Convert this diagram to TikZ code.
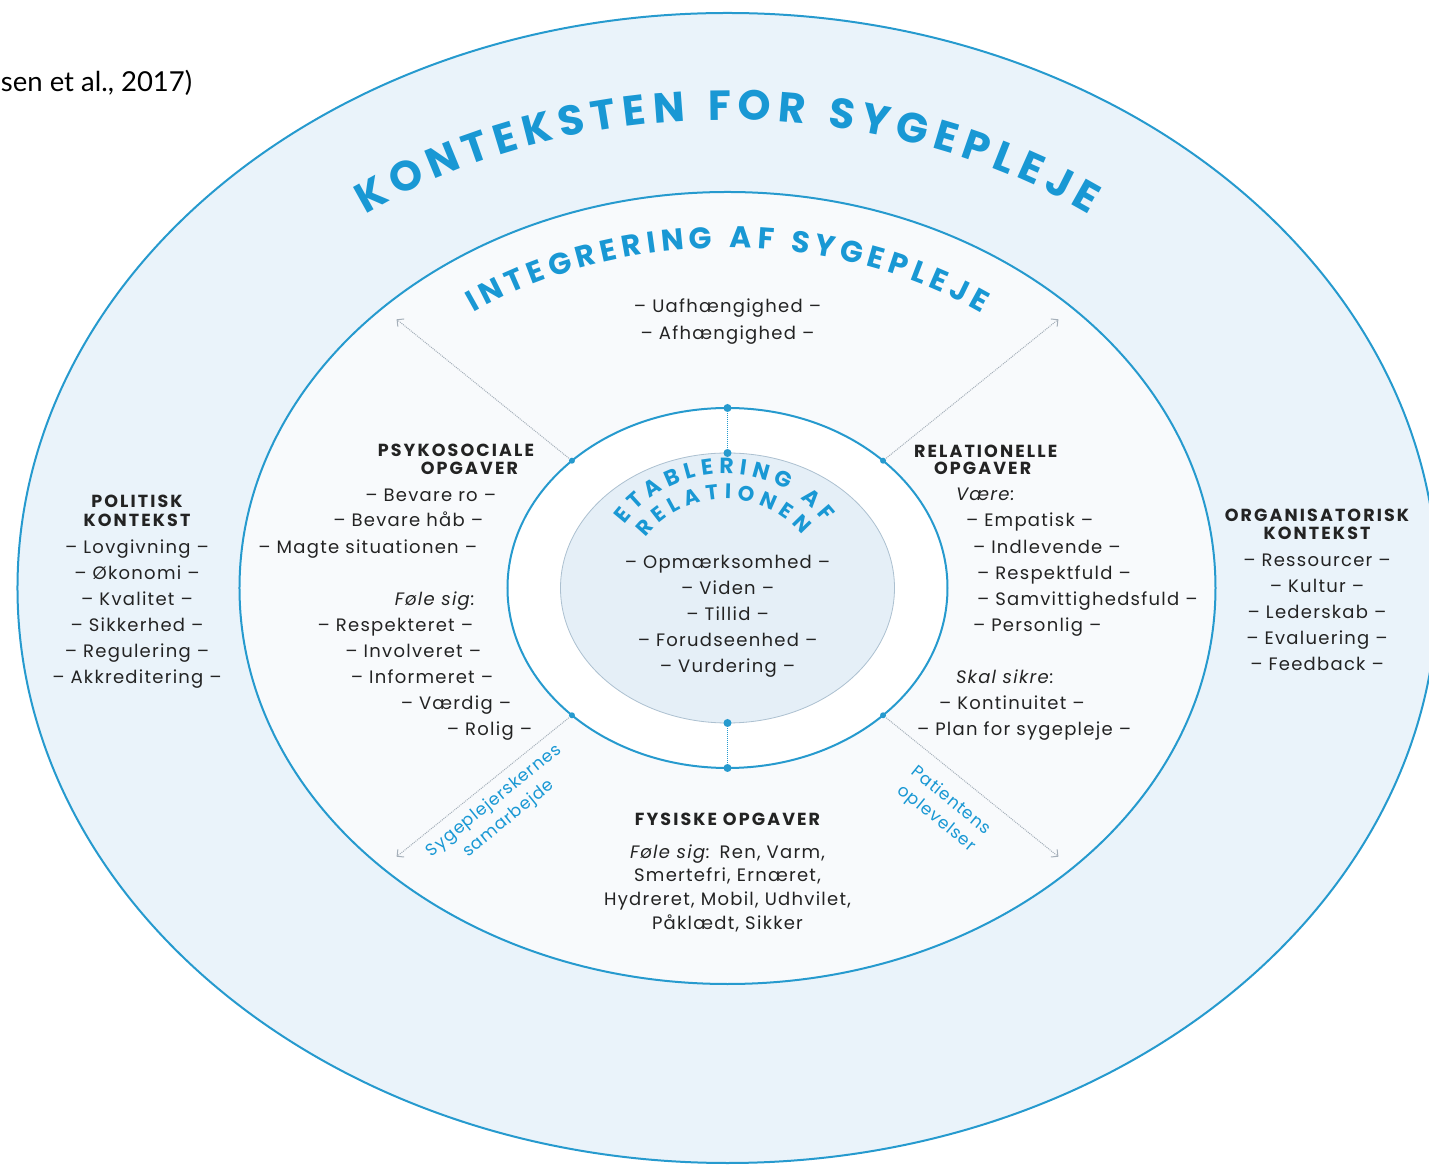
\documentclass[tikz,border=0pt]{standalone}
\usepackage{fontspec}
\setmainfont{Poppins}
\newfontfamily\citefont{Lato}
\newfontfamily\itemfont[LetterSpace=7]{Poppins}
\newfontfamily\headfont[LetterSpace=12]{Poppins}
\newfontfamily\sidefont[LetterSpace=5]{Poppins}
\usetikzlibrary{decorations.text,arrows.meta}

\definecolor{kblue}{RGB}{38,154,206}
\definecolor{tblue}{RGB}{25,152,212}
\definecolor{outerfill}{RGB}{234,243,250}
\definecolor{midfill}{RGB}{248,250,252}
\definecolor{discfill}{RGB}{229,239,247}
\definecolor{discline}{RGB}{172,192,208}
\definecolor{ink}{RGB}{35,35,35}
\definecolor{dotgray}{RGB}{165,175,185}

\tikzset{
  item/.style={font=\itemfont\fontsize{18}{20}\selectfont, text=ink, inner sep=0pt, anchor=base},
  head/.style={item, font=\headfont\fontsize{17.5}{20}\selectfont\bfseries},
  emph/.style={item, font=\itemfont\fontsize{18}{20}\selectfont\itshape},
  side/.style={font=\sidefont\fontsize{17}{23}\selectfont, text=tblue, inner sep=0pt, align=center},
  dot/.style={circle, fill=kblue, inner sep=0pt, minimum size=8pt},
  diag/.style={dotgray, densely dotted, line width=1pt, -{Straight Barb[angle=90:7pt]}},
  curved/.style={decorate, decoration={text along path, text color=tblue, text align=fit to path}},
}

\begin{document}
\begin{tikzpicture}[x=1pt, y=1pt, line width=2pt]
  \useasboundingbox (-727.5,-578) rectangle (701.5,588);

  % 三层椭圆
  \draw[kblue, fill=outerfill] (0,0) ellipse [x radius=710pt, y radius=575pt];
  \draw[kblue, fill=midfill] (0,0) ellipse [x radius=488pt, y radius=396pt];
  \draw[kblue, fill=white] (0,0) ellipse [x radius=220pt, y radius=180pt];
  \draw[discline, line width=0.8pt, fill=discfill] (0,0) ellipse [x radius=167pt, y radius=135pt];

  % 圆点和虚线
  \node[dot] (rt) at (90:220pt and 180pt) {};
  \node[dot] (dt) at (90:167pt and 135pt) {};
  \node[dot] (rb) at (270:220pt and 180pt) {};
  \node[dot] (db) at (270:167pt and 135pt) {};
  \draw[kblue, densely dotted, line width=1pt] (rt) -- (dt);
  \draw[kblue, densely dotted, line width=1pt] (rb) -- (db);
  \foreach \a [count=\i] in {135, 45, 225, 315} {
    \node[dot, minimum size=6pt] (r\i) at (\a:220pt and 180pt) {};
    \coordinate (c\i) at (\a:468pt and 380pt);
    \draw[diag] (r\i) -- (c\i);
  }

  % 弧形标题
  \path[curved, decoration={text={|\fontsize{42}{44}\selectfont\bfseries|KONTEKSTEN FOR SYGEPLEJE}}]
    (127:601pt and 468pt) arc[start angle=127, end angle=53, x radius=601pt, y radius=468pt];
  \path[curved, decoration={text={|\fontsize{30}{32}\selectfont\bfseries|INTEGRERING AF SYGEPLEJE}}]
    (126:432pt and 340pt) arc[start angle=126, end angle=54, x radius=432pt, y radius=340pt];
  \path[curved, decoration={text={|\fontsize{22}{24}\selectfont\bfseries|ETABLERING AF}}]
    ([shift={(143:126pt)}]-2.5,-12) arc[start angle=143, end angle=38, radius=126pt];
  \path[curved, decoration={text={|\fontsize{21}{23}\selectfont\bfseries|RELATIONEN}}]
    ([shift={(142:101pt)}]-2.5,-12) arc[start angle=142, end angle=40, radius=101pt];

  % 引用
  \node[font=\citefont\fontsize{27.5}{30}\selectfont, anchor=base west, inner sep=0pt] (cite)
    at (-727.5,496) {sen et al., 2017)};

  % 政治背景
  \node[head] (polh1) at (-590.5,80) {POLITISK};
  \node[head] (polh2) at (-590.5,61) {KONTEKST};
  \foreach \t [count=\i] in {Lovgivning, Økonomi, Kvalitet, Sikkerhed, Regulering, Akkreditering}
    \node[item] (pol\i) at (-590.5,{60-26*\i}) {– \t\ –};

  % 组织背景
  \node[head] (orgh1) at (589.5,66) {ORGANISATORISK};
  \node[head] (orgh2) at (589.5,48) {KONTEKST};
  \foreach \t [count=\i] in {Ressourcer, Kultur, Lederskab, Evaluering, Feedback}
    \node[item] (org\i) at (589.5,{47-26*\i}) {– \t\ –};

  % 顶部
  \node[item] (uaf) at (0,275) {– Uafhængighed –};
  \node[item] (afh) at (0,248) {– Afhængighed –};

  % 心理社会任务
  \node[head, anchor=base east] (psyh1) at (-192.5,131) {PSYKOSOCIALE};
  \node[head, anchor=base east] (psyh2) at (-208.5,113) {OPGAVER};
  \foreach \x/\y/\t [count=\i] in {-230.5/86/Bevare ro, -243.5/61/Bevare håb, -249.5/34/Magte situationen,
      -253.5/-44/Respekteret, -245.5/-70/Involveret, -233.5/-96/Informeret, -215.5/-122/Værdig, -194.5/-148/Rolig}
    \node[item, anchor=base east] (psy\i) at (\x,\y) {– \t\ –};
  \node[emph, anchor=base east] (psyf) at (-251.5,-18) {Føle sig:};

  % 关系任务
  \node[head, anchor=base west] (relh1) at (185.5,130) {RELATIONELLE};
  \node[head, anchor=base west] (relh2) at (205.5,113) {OPGAVER};
  \node[emph, anchor=base west] (relv) at (227.5,87) {Være:};
  \foreach \x/\y/\t [count=\i] in {237.5/61/Empatisk, 244.5/34/Indlevende, 248.5/8/Respektfuld,
      248.5/-18/Samvittighedsfuld, 244.5/-44/Personlig, 210.5/-122/Kontinuitet, 188.5/-148/Plan for sygepleje}
    \node[item, anchor=base west] (rel\i) at (\x,\y) {– \t\ –};
  \node[emph, anchor=base west] (rels) at (227.5,-96) {Skal sikre:};

  % 建立关系
  \foreach \t [count=\i] in {Opmærksomhed, Viden, Tillid, Forudseenhed, Vurdering}
    \node[item] (etb\i) at (0,{45-26*\i}) {– \t\ –};

  % 身体任务
  \node[head] (fysh) at (0,-238) {FYSISKE OPGAVER};
  \node[item] (fys1) at (0,-270) {\textit{Føle sig:} Ren, Varm,};
  \node[item] (fys2) at (0,-294) {Smertefri, Ernæret,};
  \node[item] (fys3) at (0,-317) {Hydreret, Mobil, Udhvilet,};
  \node[item] (fys4) at (0,-341) {Påklædt, Sikker};

  % 斜向标签
  \node[side, rotate=39] (sam) at (-226,-222) {Sygeplejerskernes\\samarbejde};
  \node[side, rotate=-39] (pat) at (216,-222) {Patientens\\oplevelser};
\end{tikzpicture}
\end{document}
